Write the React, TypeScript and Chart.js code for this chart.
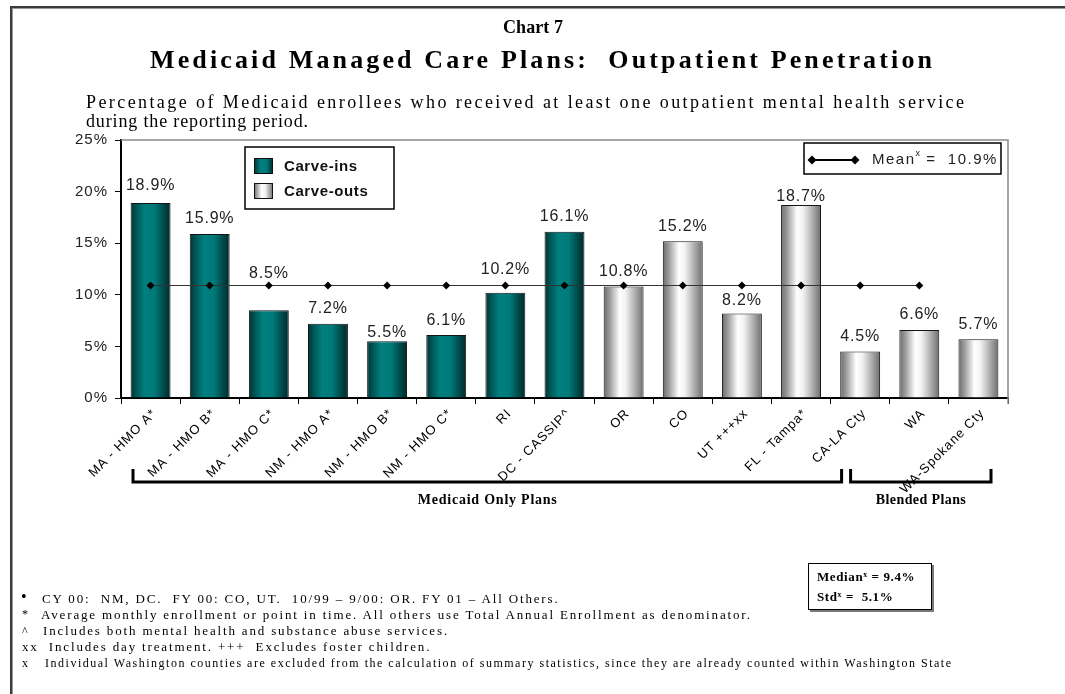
import React, { useEffect, useLayoutEffect, useRef } from "react";
import { Chart, registerables } from "chart.js";

Chart.register(...registerables);

// ---------------- data ----------------
const planLabels: string[] = [
  "MA - HMO A*",
  "MA - HMO B*",
  "MA - HMO C*",
  "NM - HMO A*",
  "NM - HMO B*",
  "NM - HMO C*",
  "RI",
  "DC - CASSIP^",
  "OR",
  "CO",
  "UT +++xx",
  "FL - Tampa*",
  "CA-LA Cty",
  "WA",
  "WA-Spokane Cty",
];
const penetration: number[] = [18.9, 15.9, 8.5, 7.2, 5.5, 6.1, 10.2, 16.1, 10.8, 15.2, 8.2, 18.7, 4.5, 6.6, 5.7];
const carveType: string[] = ["in", "in", "in", "in", "in", "in", "in", "in", "out", "out", "out", "out", "out", "out", "out"];
const meanLine: (number | null)[] = [10.9, 10.9, 10.9, 10.9, 10.9, 10.9, 10.9, 10.9, 10.9, 10.9, 10.9, 10.9, 10.9, 10.9, null];
const yTickValues: number[] = [0, 5, 10, 15, 20, 25];
// distance (px) of each value label above its bar (labels are hand-placed in the original)
const valueLabelLift: number[] = [17, 15, 37, 15, 9, 14, 23, 15, 15, 15, 13, 8, 15, 15, 15];

const SANS = "'Liberation Sans', Arial, sans-serif";
const SERIF = "'Liberation Serif', 'Times New Roman', serif";
const BAR_PCT = 0.675;

function barFill(c: any) {
  const isIn = carveType[c.dataIndex] === "in";
  const chart = c.chart;
  if (!chart.chartArea || c.type !== "data") return isIn ? "#007070" : "#d0d0d0";
  const xs = chart.scales.x;
  const cx = xs.getPixelForValue(c.dataIndex);
  const half = ((xs.width / planLabels.length) * BAR_PCT) / 2;
  const g = chart.ctx.createLinearGradient(cx - half, 0, cx + half, 0);
  if (isIn) {
    g.addColorStop(0, "#013434");
    g.addColorStop(0.12, "#005050");
    g.addColorStop(0.35, "#007f7f");
    g.addColorStop(0.6, "#007a7a");
    g.addColorStop(0.85, "#004545");
    g.addColorStop(1, "#002a2a");
  } else {
    g.addColorStop(0, "#6a6a6a");
    g.addColorStop(0.15, "#9c9c9c");
    g.addColorStop(0.4, "#ffffff");
    g.addColorStop(0.55, "#f2f2f2");
    g.addColorStop(0.82, "#a4a4a4");
    g.addColorStop(1, "#6c6c6c");
  }
  return g;
}

function fillFit(ctx: CanvasRenderingContext2D, text: string, cx: number, cy: number, width: number) {
  (ctx as any).letterSpacing = "0px";
  const w = ctx.measureText(text).width;
  const s = (width - w) / Math.max(1, text.length - 1);
  (ctx as any).letterSpacing = s + "px";
  ctx.textAlign = "left";
  ctx.fillText(text, cx - width / 2, cy);
  (ctx as any).letterSpacing = "0px";
}

function diamond(ctx: CanvasRenderingContext2D, x: number, y: number, r: number) {
  ctx.beginPath();
  ctx.moveTo(x, y - r);
  ctx.lineTo(x + r, y);
  ctx.lineTo(x, y + r);
  ctx.lineTo(x - r, y);
  ctx.closePath();
  ctx.fill();
}

const decorPlugin = {
  id: "decor",
  beforeDraw(chart: any) {
    chart.ctx.letterSpacing = "1px";
  },
  beforeDatasetsDraw(chart: any) {
    const { ctx, chartArea: a } = chart;
    ctx.save();
    ctx.strokeStyle = "#8a8a8a";
    ctx.lineWidth = 1.5;
    ctx.beginPath();
    ctx.moveTo(a.left, a.top);
    ctx.lineTo(a.right, a.top);
    ctx.lineTo(a.right, a.bottom + 6);
    ctx.stroke();
    ctx.restore();
  },
  afterDraw(chart: any) {
    const ctx: CanvasRenderingContext2D = chart.ctx;
    const xs = chart.scales.x;
    const meta = chart.getDatasetMeta(1);
    ctx.save();
    // value labels
    ctx.font = `16px ${SANS}`;
    (ctx as any).letterSpacing = "0.8px";
    ctx.fillStyle = "#222";
    ctx.textAlign = "center";
    ctx.textBaseline = "middle";
    meta.data.forEach((bar: any, i: number) => {
      ctx.fillText(penetration[i].toFixed(1) + "%", bar.x, bar.y - valueLabelLift[i]);
    });

    // carve legend
    ctx.lineWidth = 1.5;
    ctx.strokeStyle = "#000";
    ctx.strokeRect(245, 147, 149, 62);
    const sw = (x: number, y: number, isIn: boolean) => {
      const g = ctx.createLinearGradient(x, 0, x + 19, 0);
      if (isIn) {
        g.addColorStop(0, "#013434");
        g.addColorStop(0.35, "#007f7f");
        g.addColorStop(0.65, "#007a7a");
        g.addColorStop(1, "#002a2a");
      } else {
        g.addColorStop(0, "#6a6a6a");
        g.addColorStop(0.4, "#ffffff");
        g.addColorStop(0.6, "#f2f2f2");
        g.addColorStop(1, "#6c6c6c");
      }
      ctx.fillStyle = g;
      ctx.fillRect(x, y, 19, 16);
      ctx.lineWidth = 1;
      ctx.strokeStyle = "#111";
      ctx.strokeRect(x + 0.5, y + 0.5, 18, 15);
    };
    sw(254, 158, true);
    sw(254, 183, false);
    ctx.fillStyle = "#111";
    ctx.font = `bold 15px ${SANS}`;
    (ctx as any).letterSpacing = "0.6px";
    ctx.textAlign = "left";
    ctx.fillText("Carve-ins", 284, 167);
    ctx.fillText("Carve-outs", 284, 192);

    // mean legend
    ctx.lineWidth = 1.5;
    ctx.strokeStyle = "#000";
    ctx.strokeRect(804, 143, 197, 31);
    ctx.lineWidth = 2.2;
    ctx.beginPath();
    ctx.moveTo(812, 160);
    ctx.lineTo(855, 160);
    ctx.stroke();
    ctx.fillStyle = "#000";
    diamond(ctx, 812, 160, 4.5);
    diamond(ctx, 855, 160, 4.5);
    ctx.fillStyle = "#222";
    ctx.font = `15px ${SANS}`;
    (ctx as any).letterSpacing = "1.5px";
    ctx.fillText("Mean", 872, 160);
    let x = 872 + ctx.measureText("Mean").width;
    ctx.font = `9px ${SANS}`;
    (ctx as any).letterSpacing = "0.5px";
    ctx.fillText("x", x, 154);
    x += ctx.measureText("x").width;
    ctx.font = `15px ${SANS}`;
    (ctx as any).letterSpacing = "1.5px";
    ctx.fillText(" =  10.9%", x, 160);

    // brackets
    const step = xs.width / planLabels.length;
    const groups = [
      { from: xs.left + 12, to: xs.left + 12 * step + 11, label: "Medicaid Only Plans", w: 139 },
      { from: xs.left + 12 * step + 20, to: xs.right - 17, label: "Blended Plans", w: 90 },
    ];
    ctx.strokeStyle = "#000";
    ctx.lineWidth = 3;
    ctx.fillStyle = "#000";
    ctx.font = `bold 14px ${SERIF}`;
    ctx.textBaseline = "middle";
    groups.forEach((g) => {
      ctx.beginPath();
      ctx.moveTo(g.from, 469);
      ctx.lineTo(g.from, 482);
      ctx.lineTo(g.to, 482);
      ctx.lineTo(g.to, 469);
      ctx.stroke();
      fillFit(ctx, g.label, (g.from + g.to) / 2, 500, g.w);
    });
    ctx.restore();
  },
};

// -------------- HTML text helper: lines letter-spaced so that the reference line fits a width --------------
type GLine = { text: string; left: number; top: number };
function FitGroup(props: { lines: GLine[]; width: number; font: string; refIndex?: number }) {
  const { lines, width, font } = props;
  const refIndex = props.refIndex ?? 0;
  const refs = useRef<(HTMLSpanElement | null)[]>([]);
  useLayoutEffect(() => {
    const els = refs.current;
    els.forEach((e) => e && (e.style.letterSpacing = "0px"));
    const r = els[refIndex];
    if (!r) return;
    const w = r.getBoundingClientRect().width;
    const n = Array.from(lines[refIndex].text).length;
    const s = (width - w) / Math.max(1, n - 1);
    els.forEach((e) => e && (e.style.letterSpacing = s + "px"));
  }, []);
  return (
    <>
      {lines.map((l, i) => (
        <span
          key={i}
          ref={(el) => {
            refs.current[i] = el;
          }}
          style={{ position: "absolute", left: l.left, top: l.top, font, whiteSpace: "pre", lineHeight: 1, color: "#000" }}
        >
          {l.text}
        </span>
      ))}
    </>
  );
}

export default function App() {
  const canvasRef = useRef<HTMLCanvasElement>(null);

  useEffect(() => {
    const canvas = canvasRef.current;
    if (!canvas) return;
    const chart = new Chart(canvas, {
      type: "bar",
      data: {
        labels: planLabels,
        datasets: [
          {
            type: "line",
            data: meanLine,
            borderColor: "#333",
            borderWidth: 1.2,
            pointStyle: "rectRot",
            pointRadius: 4,
            pointBackgroundColor: "#000",
            pointBorderColor: "#000",
            pointBorderWidth: 0,
            spanGaps: false,
            fill: false,
            order: 1,
          } as any,
          {
            type: "bar",
            data: penetration,
            backgroundColor: barFill as any,
            borderColor: "#151515",
            borderWidth: 1,
            barPercentage: BAR_PCT,
            categoryPercentage: 1,
            order: 2,
          } as any,
        ],
      },
      options: {
        animation: false,
        responsive: false,
        devicePixelRatio: 1,
        layout: { padding: { left: 61, right: 57, top: 140, bottom: 196 } },
        plugins: { legend: { display: false }, tooltip: { enabled: false }, title: { display: false } },
        scales: {
          x: {
            type: "category",
            offset: true,
            grid: { display: true, drawOnChartArea: false, drawTicks: true, tickLength: 6, color: "#000", offset: true },
            border: { display: true, color: "#000", width: 2 },
            ticks: {
              autoSkip: false,
              maxRotation: 45,
              minRotation: 45,
              font: { family: SANS, size: 13 },
              color: "#000",
              padding: 2,
              labelOffset: 4,
            },
            afterFit: (s: any) => {
              s.height = 100;
            },
          },
          y: {
            min: 0,
            max: 25,
            afterBuildTicks: (s: any) => {
              s.ticks = yTickValues.map((v) => ({ value: v }));
            },
            ticks: {
              callback: (v: any) => v + "%",
              font: { family: SANS, size: 15 },
              color: "#222",
              padding: 7,
            },
            grid: { drawOnChartArea: false, tickLength: 6, color: "#000" },
            border: { display: true, color: "#000", width: 2 },
            afterFit: (s: any) => {
              s.width = 60;
            },
          },
        },
      } as any,
      plugins: [decorPlugin],
    });
    return () => chart.destroy();
  }, []);

  const sup = (t: string) => <sup style={{ fontSize: "0.6em", verticalAlign: "0.55em", lineHeight: 0 }}>{t}</sup>;

  return (
    <div style={{ position: "absolute", left: 0, top: 0, width: 1065, height: 694, overflow: "hidden", background: "#fff" }}>
      <div
        style={{
          position: "absolute",
          left: 10,
          top: 6,
          width: 1200,
          height: 900,
          borderLeft: "2px solid #3c3c3c",
          borderTop: "2px solid #3c3c3c",
          boxShadow: "inset 1px 1px 0 #9a9a9a",
        }}
      />
      <canvas ref={canvasRef} width={1065} height={694} style={{ position: "absolute", left: 0, top: 0, display: "block" }} />

      <FitGroup lines={[{ text: "Chart 7", left: 503, top: 18 }]} width={60} font={`bold 18px ${SERIF}`} />
      <FitGroup lines={[{ text: "Medicaid Managed Care Plans:  Outpatient Penetration", left: 150, top: 47 }]} width={782} font={`bold 26px ${SERIF}`} />
      <FitGroup
        lines={[{ text: "Percentage of Medicaid enrollees who received at least one outpatient mental health service", left: 86, top: 93 }]}
        width={878}
        font={`18px ${SERIF}`}
      />
      <FitGroup lines={[{ text: "during the reporting period.", left: 86, top: 112 }]} width={222} font={`18px ${SERIF}`} />

      {/* footnote markers */}
      <span style={{ position: "absolute", left: 21, top: 589, font: `16px ${SERIF}`, lineHeight: 1 }}>•</span>
      <span style={{ position: "absolute", left: 22, top: 608, font: `12px ${SERIF}`, lineHeight: 1 }}>*</span>
      <span style={{ position: "absolute", left: 22, top: 625, font: `12px ${SERIF}`, lineHeight: 1 }}>^</span>
      <span style={{ position: "absolute", left: 22, top: 657, font: `12px ${SERIF}`, lineHeight: 1 }}>x</span>
      <FitGroup
        refIndex={1}
        lines={[
          { text: "CY 00:  NM, DC.  FY 00: CO, UT.  10/99 – 9/00: OR. FY 01 – All Others.", left: 42, top: 592 },
          { text: "Average monthly enrollment or point in time. All others use Total Annual Enrollment as denominator.", left: 41, top: 608 },
          { text: "Includes both mental health and substance abuse services.", left: 43, top: 624 },
          { text: "xx  Includes day treatment. +++  Excludes foster children.", left: 22, top: 640 },
        ]}
        width={709}
        font={`13px ${SERIF}`}
      />
      <FitGroup
        lines={[
          {
            text: "Individual Washington counties are excluded from the calculation of summary statistics, since they are already counted within Washington State",
            left: 45,
            top: 657,
          },
        ]}
        width={906}
        font={`12px ${SERIF}`}
      />

      {/* summary box */}
      <div
        style={{
          position: "absolute",
          left: 808,
          top: 563,
          width: 122,
          height: 45,
          border: "1px solid #000",
          boxShadow: "2px 2px 0 #7a7a7a",
          background: "#fff",
        }}
      />
      <span style={{ position: "absolute", left: 817, top: 570, font: `bold 13px ${SERIF}`, letterSpacing: "0.6px", whiteSpace: "pre", lineHeight: 1 }}>
        Median{sup("x")} = 9.4%
      </span>
      <span style={{ position: "absolute", left: 817, top: 590, font: `bold 13px ${SERIF}`, letterSpacing: "0.6px", whiteSpace: "pre", lineHeight: 1 }}>
        Std{sup("x")} =  5.1%
      </span>
    </div>
  );
}
